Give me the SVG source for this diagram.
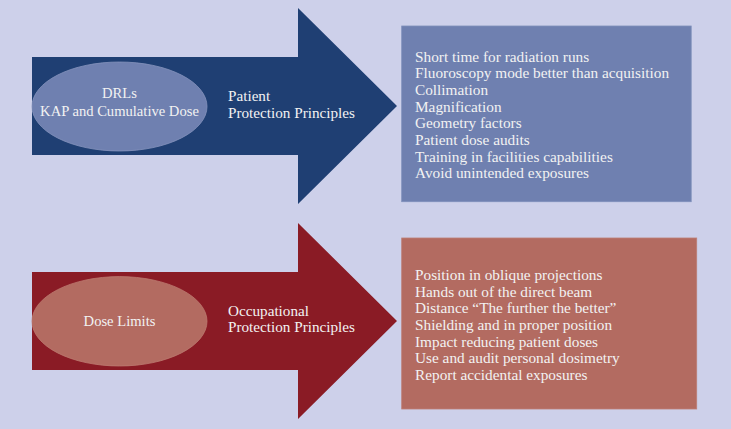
<svg xmlns="http://www.w3.org/2000/svg" width="731" height="429" viewBox="0 0 731 429">
<style>
text{font-family:"Liberation Serif","DejaVu Serif",serif;font-size:15.3px;fill:#f2f2f2}
.mid{text-anchor:middle;font-size:14.6px}
.lbl{font-size:15.2px}
</style>
<rect width="731" height="429" fill="#cdd0ea"/>
<g id="patient-arrow">
<polygon points="32,57 298,57 298,8 397,106 298,204 298,155 32,155" fill="#1f3f73"/>
<ellipse cx="119.5" cy="106.5" rx="87.5" ry="44.5" fill="#6f80b0" stroke="#8593bd" stroke-width="0.8"/>
<text class="mid" x="119.5" y="98">DRLs</text>
<text class="mid" x="119.5" y="115.5">KAP and Cumulative Dose</text>
<text class="lbl" x="228" y="101">Patient</text>
<text class="lbl" x="228" y="118">Protection Principles</text>
</g>
<g id="patient-box">
<rect x="401.7" y="26" width="289.5" height="175.7" fill="#6f80b0" stroke="#7f8fbb" stroke-width="0.8"/>
<text x="415" y="61.7">Short time for radiation runs</text>
<text x="415" y="78.3">Fluoroscopy mode better than acquisition</text>
<text x="415" y="95">Collimation</text>
<text x="415" y="111.6">Magnification</text>
<text x="415" y="128.3">Geometry factors</text>
<text x="415" y="145">Patient dose audits</text>
<text x="415" y="161.6">Training in facilities capabilities</text>
<text x="415" y="178.3">Avoid unintended exposures</text>
</g>
<g id="occupational-arrow">
<polygon points="32,272 298,272 298,223 397,321 298,419 298,370 32,370" fill="#8a1b25"/>
<ellipse cx="119.5" cy="321.3" rx="87.5" ry="44.7" fill="#b36b61" stroke="#bd7a70" stroke-width="0.8"/>
<text class="mid" x="119.5" y="325.7">Dose Limits</text>
<text class="lbl" x="228" y="315.7">Occupational</text>
<text class="lbl" x="228" y="332.3">Protection Principles</text>
</g>
<g id="occupational-box">
<rect x="401.7" y="238" width="295" height="171" fill="#b36b61" stroke="#bd7e76" stroke-width="0.8"/>
<text x="415" y="280">Position in oblique projections</text>
<text x="415" y="296.7">Hands out of the direct beam</text>
<text x="415" y="313.3">Distance “The further the better”</text>
<text x="415" y="330">Shielding and in proper position</text>
<text x="415" y="346.7">Impact reducing patient doses</text>
<text x="415" y="363.3">Use and audit personal dosimetry</text>
<text x="415" y="380">Report accidental exposures</text>
</g>
<g id="connectors"></g>
</svg>
